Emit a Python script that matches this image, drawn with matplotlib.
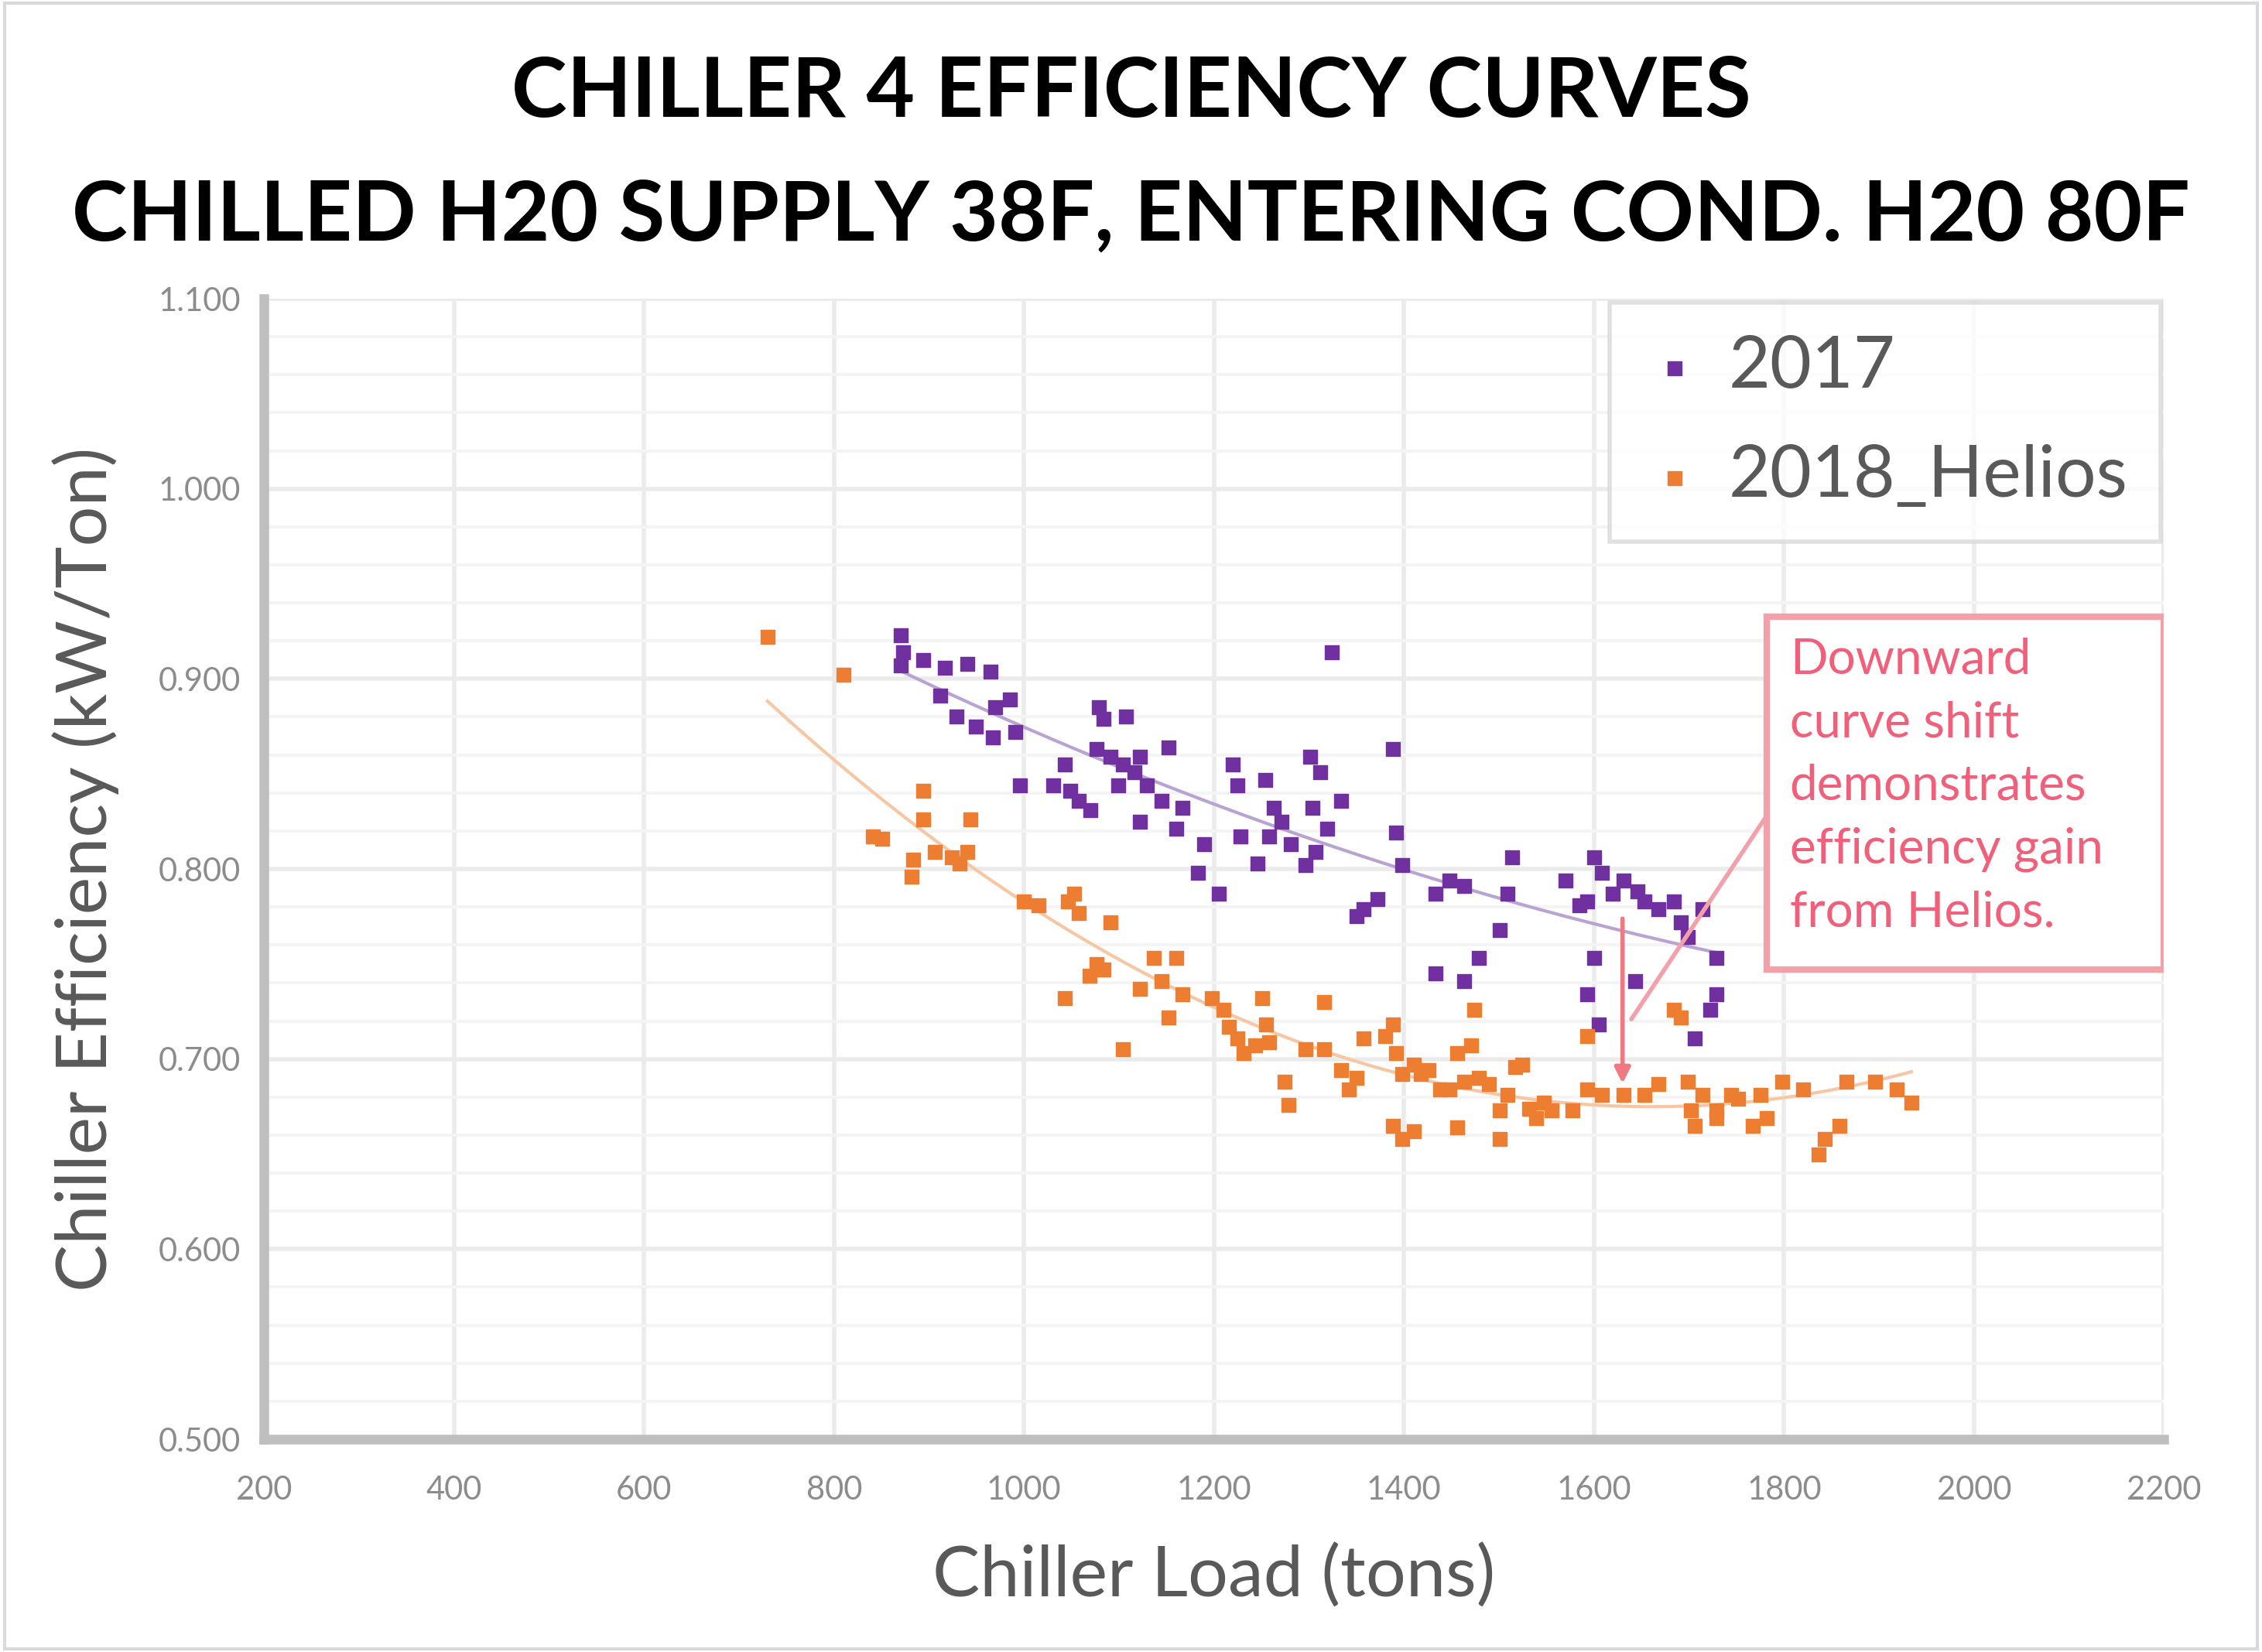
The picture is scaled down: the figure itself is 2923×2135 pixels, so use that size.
import numpy as np
import matplotlib
matplotlib.use("Agg")
import matplotlib.pyplot as plt
from matplotlib.patches import Rectangle

plt.rcParams['font.family'] = ['Lato', 'DejaVu Sans']

# 2017 data (load in tons, efficiency in kW/ton)
load_2017 = [870, 873, 870, 894, 917, 940, 965, 912, 929, 949, 970, 985, 991, 967, 996,
             1043, 1031, 1049, 1058, 1070, 1079, 1084, 1107, 1076, 1091, 1104, 1116, 1122,
             1152, 1099, 1129, 1145, 1167, 1122, 1160, 1220, 1225, 1183, 1205, 1190, 1228,
             1254, 1263, 1258, 1271, 1246, 1281, 1301, 1312, 1304, 1319, 1334, 1296, 1307,
             1324, 1388, 1392, 1398, 1357, 1372, 1350, 1433, 1448, 1463, 1433, 1463, 1479,
             1501, 1509, 1514, 1570, 1593, 1600, 1608, 1585, 1620, 1631, 1646, 1653, 1668,
             1684, 1691, 1699, 1729, 1714, 1600, 1593, 1605, 1729, 1722, 1706, 1643]
eff_2017 = [0.923, 0.914, 0.907, 0.910, 0.906, 0.908, 0.904, 0.891, 0.880, 0.875, 0.885,
            0.889, 0.872, 0.869, 0.844, 0.855, 0.844, 0.841, 0.836, 0.831, 0.885, 0.879,
            0.880, 0.863, 0.859, 0.855, 0.851, 0.859, 0.864, 0.844, 0.844, 0.836, 0.832,
            0.825, 0.821, 0.855, 0.844, 0.798, 0.787, 0.813, 0.817, 0.847, 0.832, 0.817,
            0.825, 0.803, 0.813, 0.859, 0.851, 0.832, 0.821, 0.836, 0.802, 0.809, 0.914,
            0.863, 0.819, 0.802, 0.779, 0.784, 0.775, 0.787, 0.794, 0.791, 0.745, 0.741,
            0.753, 0.768, 0.787, 0.806, 0.794, 0.783, 0.806, 0.798, 0.781, 0.787, 0.794,
            0.788, 0.783, 0.779, 0.783, 0.772, 0.764, 0.753, 0.779, 0.753, 0.734, 0.718,
            0.734, 0.726, 0.711, 0.741]

# 2018 data (after Helios)
load_2018 = [730, 810, 841, 851, 882, 883, 894, 894, 906, 924, 932, 944, 940, 1000, 1015,
             1046, 1053, 1058, 1043, 1076, 1069, 1084, 1091, 1104, 1122, 1137, 1145, 1152,
             1160, 1167, 1198, 1210, 1216, 1225, 1231, 1243, 1251, 1255, 1258, 1274, 1278,
             1296, 1316, 1316, 1334, 1342, 1350, 1357, 1380, 1388, 1392, 1398, 1410, 1418,
             1426, 1438, 1448, 1456, 1463, 1471, 1474, 1479, 1489, 1501, 1509, 1517, 1524,
             1532, 1539, 1555, 1547, 1577, 1593, 1593, 1608, 1631, 1653, 1668, 1699, 1702,
             1706, 1714, 1729, 1744, 1767, 1775, 1782, 1798, 1820, 1836, 1843, 1858, 1866,
             1896, 1919, 1934, 1410, 1398, 1388, 1456, 1501, 1684, 1691, 1729, 1752]
eff_2018 = [0.922, 0.902, 0.817, 0.816, 0.796, 0.805, 0.841, 0.826, 0.809, 0.806, 0.803,
            0.826, 0.809, 0.783, 0.781, 0.783, 0.787, 0.777, 0.732, 0.750, 0.744, 0.747,
            0.772, 0.705, 0.737, 0.753, 0.741, 0.722, 0.753, 0.734, 0.732, 0.726, 0.717,
            0.711, 0.703, 0.707, 0.732, 0.718, 0.709, 0.688, 0.676, 0.705, 0.730, 0.705,
            0.694, 0.684, 0.690, 0.711, 0.712, 0.718, 0.703, 0.692, 0.697, 0.692, 0.694,
            0.684, 0.684, 0.703, 0.688, 0.707, 0.726, 0.690, 0.687, 0.673, 0.681, 0.696,
            0.697, 0.674, 0.669, 0.673, 0.677, 0.673, 0.684, 0.712, 0.681, 0.681, 0.681,
            0.687, 0.688, 0.673, 0.665, 0.681, 0.673, 0.681, 0.665, 0.681, 0.669, 0.688,
            0.684, 0.650, 0.658, 0.665, 0.688, 0.688, 0.684, 0.677, 0.662, 0.658, 0.665,
            0.664, 0.658, 0.726, 0.722, 0.669, 0.679]

x_ticks = [200, 400, 600, 800, 1000, 1200, 1400, 1600, 1800, 2000, 2200]
y_ticks = [0.5, 0.6, 0.7, 0.8, 0.9, 1.0, 1.1]

note_text = "Downward\ncurve shift\ndemonstrates\nefficiency gain\nfrom Helios."
shift_load = 1630  # where the red shift marker sits

purple = '#7030a0'
orange = '#ed7d31'
gray_txt = '#595959'
pink = '#f4a0a8'

fig = plt.figure(figsize=(29.23, 21.35), dpi=100)
ax = fig.add_axes([0.1167, 0.1288, 0.84, 0.6904])

# gridlines
ax.set_xticks(x_ticks)
ax.set_yticks(y_ticks)
ax.set_yticks(np.arange(0.5, 1.1, 0.02), minor=True)
ax.grid(True, which='major', color='#ebebeb', lw=4)
ax.grid(True, which='minor', axis='y', color='#f4f4f4', lw=3)
ax.set_axisbelow(True)

ax.scatter(load_2017, eff_2017, marker='s', s=170, color=purple, label='2017', zorder=3)
ax.scatter(load_2018, eff_2018, marker='s', s=170, color=orange, label='2018_Helios', zorder=3)

# polynomial trendlines (as in Excel)
for xs, ys, c in [(load_2017, eff_2017, '#b9a3d3'), (load_2018, eff_2018, '#f7c6a3')]:
    xs = np.array(xs); ys = np.array(ys)
    p = np.polyfit(xs, ys, 2)
    xx = np.linspace(xs.min(), xs.max(), 200)
    ax.plot(xx, np.polyval(p, xx), color=c, lw=3, zorder=2)

ax.set_xlim(200, 2200)
ax.set_ylim(0.5, 1.1)
ax.set_xticklabels([str(v) for v in x_ticks])
ax.set_yticklabels([f"{v:.3f}" for v in y_ticks])
ax.tick_params(which='both', length=0, labelsize=30, labelcolor='#8c8c8c', pad=22)
ax.tick_params(axis='x', pad=34)

for s in ['top', 'right']:
    ax.spines[s].set_visible(False)
for s in ['left', 'bottom']:
    ax.spines[s].set_color('#bfbfbf')
    ax.spines[s].set_linewidth(9)

ax.set_xlabel('Chiller Load (tons)', fontsize=66, color=gray_txt, labelpad=36)
ax.set_ylabel('Chiller Efficiency (kW/Ton)', fontsize=66, color=gray_txt, labelpad=36)

leg = ax.legend(loc='upper right', bbox_to_anchor=(1.0, 1.0), fontsize=67, markerscale=1.0,
                labelcolor=gray_txt, frameon=True, fancybox=False, handletextpad=0.3,
                borderpad=0.45, labelspacing=0.62, handlelength=0.9, borderaxespad=0.05)
leg.get_frame().set_edgecolor('#d9d9d9')
leg.get_frame().set_linewidth(4)

# annotation box
ax.add_patch(Rectangle((0.791, 0.412), 0.209, 0.309, transform=ax.transAxes,
                       facecolor='white', edgecolor=pink, lw=6, zorder=5))
ax.text(0.803, 0.703, note_text, transform=ax.transAxes, fontsize=46, color='#f0607a',
        va='top', ha='left', linespacing=1.5, zorder=6)
ax.annotate('', xy=(shift_load + 8, 0.720), xytext=(0.791, 0.547),
            xycoords='data', textcoords='axes fraction',
            arrowprops=dict(arrowstyle='-', color=pink, lw=4), zorder=4)
ax.annotate('', xy=(shift_load, 0.686), xytext=(shift_load, 0.775),
            arrowprops=dict(arrowstyle='-|>', color='#f07880', lw=4, mutation_scale=30), zorder=4)

fig.text(0.5, 0.944, 'CHILLER 4 EFFICIENCY CURVES', ha='center', va='center',
         fontsize=78, fontweight='bold', color='black')
fig.text(0.5, 0.869, 'CHILLED H20 SUPPLY 38F, ENTERING COND. H20 80F', ha='center', va='center',
         fontsize=78, fontweight='bold', color='black')

fig.patches.append(Rectangle((0.002, 0.002), 0.996, 0.996, transform=fig.transFigure,
                             fill=False, edgecolor='#d9d9d9', lw=3))

fig.savefig('out.png', dpi=100, facecolor='white')
